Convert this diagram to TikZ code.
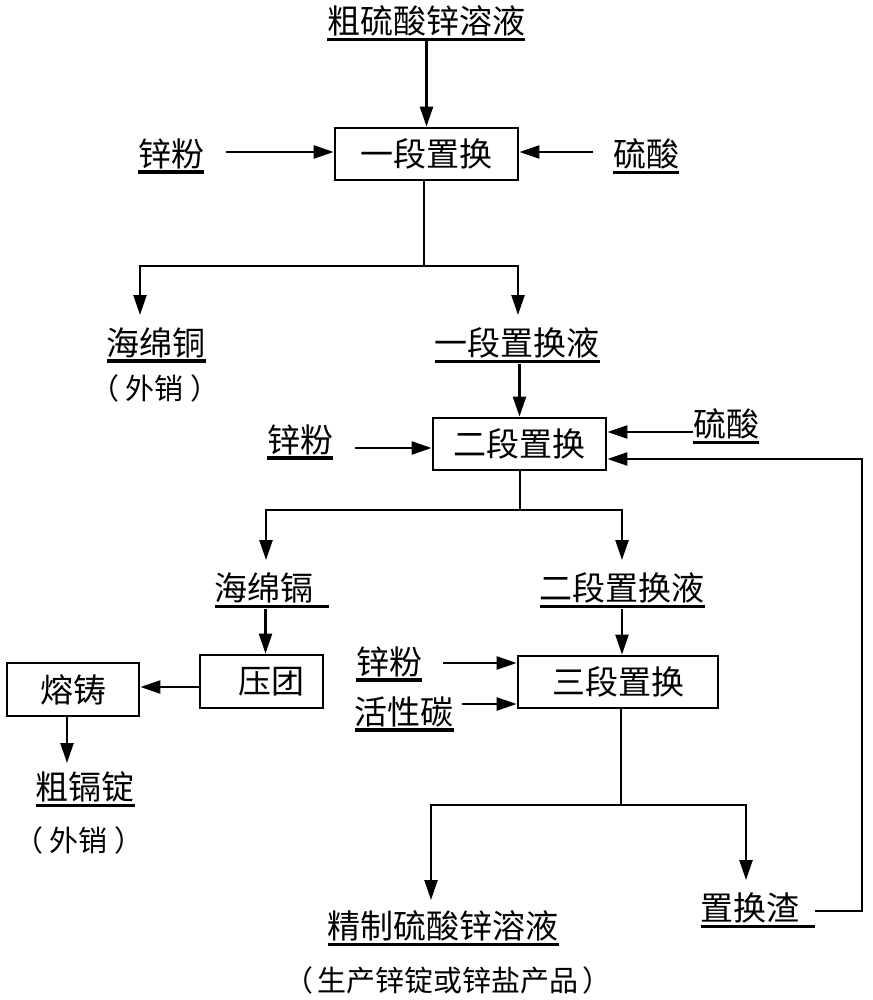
\documentclass[tikz,border=0pt]{standalone}
\usepackage{fontspec}
\newfontfamily\cjk{Noto Sans CJK SC}
\usetikzlibrary{arrows.meta}
\begin{document}
\begin{tikzpicture}[x=1pt,y=-1pt,
  lbl/.style={font=\cjk\fontsize{33}{36}\selectfont, inner sep=0pt, outer sep=0pt},
  note/.style={font=\cjk\fontsize{29}{32}\selectfont, inner sep=0pt, outer sep=0pt},
  box/.style={draw, line width=2.8pt, font=\cjk\fontsize{33}{36}\selectfont, minimum height=52pt, inner sep=0pt},
  ln/.style={line width=2.4pt},
  arr/.style={line width=2.4pt, -{Triangle[length=20pt,width=13pt]}},
  ul/.style={line width=3.4pt}
]
\useasboundingbox (0,0) rectangle (872,1000);
\fill[white] (0,0) rectangle (872,1000);

% ---- nodes ----
\node[lbl] (top) at (426,21) {粗硫酸锌溶液};
\node[box, minimum width=183pt] (b1) at (426.5,154) {一段置换};
\node[lbl] (zf1) at (171,154) {锌粉};
\node[lbl] (ls1) at (646,154) {硫酸};
\node[lbl] (hmt) at (156,343) {海绵铜};
\node[note] (wx1) at (155,388) {（\hspace{7pt}外销\hspace{7pt}）};
\node[lbl] (yd) at (517,343) {一段置换液};

\node[box, minimum width=173pt] (b2) at (519.5,444) {二段置换};
\node[lbl] (zf2) at (300,440) {锌粉};
\node[lbl] (ls2) at (726,424) {硫酸};

\node[lbl] (hmg) at (264,588) {海绵镉};
\node[lbl] (edy) at (622,588) {二段置换液};
\node[box, minimum width=123pt, minimum height=53pt] (yt) at (261.5,681.5) {\hspace*{20pt}压团};
\node[box, minimum width=132pt, minimum height=53pt] (rz) at (73,689.5) {熔铸};
\node[lbl] (cgd) at (85,787) {粗镉锭};
\node[note] (wx2) at (79,840) {（\hspace{7pt}外销\hspace{7pt}）};

\node[box, minimum width=200pt] (b3) at (618,682) {三段置换};
\node[lbl] (zf3) at (389,662) {锌粉};
\node[lbl] (hxt) at (404,712) {活性碳};

\node[lbl] (jz) at (443,926) {精制硫酸锌溶液};
\node[note] (prod) at (448,980) {（\hspace{4pt}生产锌锭或锌盐产品\hspace{4pt}）};
\node[lbl] (zhz) at (750,908) {置换渣};

% ---- underlines ----
\foreach \n in {top,zf1,ls1,hmt,yd,zf2,ls2,edy,zf3,hxt,cgd,jz}{
  \draw[ul] ([yshift=-3pt]\n.south west) -- ([yshift=-3pt]\n.south east);
}
\draw[ul] ([yshift=-3pt]hmg.south west) -- ([yshift=-3pt,xshift=15pt]hmg.south east);
\draw[ul] ([yshift=-3pt]zhz.south west) -- ([yshift=-3pt,xshift=15pt]zhz.south east);

% ---- coordinates ----
\coordinate (j1) at (424,266);
\coordinate (t1a) at (140,315);
\coordinate (t1b) at (518,315);
\coordinate (j2) at (520,510);
\coordinate (t2a) at (266,560);
\coordinate (t2b) at (622,560);
\coordinate (j3) at (621,805);
\coordinate (t3a) at (431,900);
\coordinate (t3b) at (746,880);
\coordinate (rc) at (862,911);
\coordinate (rt) at (67,763);

% ---- connectors ----
\draw[arr] (b1.north |- top.south) ++(0,5) -- (b1.north);
\draw[arr, shorten <=22pt] (zf1.east |- 0,152) -- (b1.west |- 0,152);
\draw[arr, shorten <=20pt] (ls1.west |- 0,152) -- (b1.east |- 0,152);
\draw[ln] (b1.south -| j1) -- (j1);
\draw[arr] (j1) -| (t1a);
\draw[arr] (j1) -| (t1b);

\draw[arr, shorten <=6pt] (b2.north |- yd.south) -- (b2.north);
\draw[arr, shorten <=22pt] (zf2.east |- 0,448) -- (b2.west |- 0,448);
\draw[arr] (ls2.west |- 0,432) -- (b2.east |- 0,432);
\draw[ln] (b2.south -| j2) -- (j2);
\draw[arr] (j2) -| (t2a);
\draw[arr] (j2) -| (t2b);

\draw[arr, shorten <=6pt] (hmg.south -| yt.north) ++(4,0) -- ([xshift=4pt]yt.north);
\draw[arr] (yt.west |- 0,687) -- (rz.east |- 0,687);
\draw[arr] (rz.south -| rt) -- (rt);

\draw[arr, shorten <=6pt] (edy.south) -- (edy.south |- b3.north);
\draw[arr, shorten <=21pt] (zf3.east |- 0,663) -- (b3.west |- 0,663);
\draw[arr, shorten <=8pt] (hxt.east |- 0,704) -- (b3.west |- 0,704);
\draw[ln] (b3.south -| j3) -- (j3);
\draw[arr] (j3) -| (t3a);
\draw[arr] (j3) -| (t3b);

\draw[arr, shorten <=-2pt] ([xshift=17pt]zhz.east |- rc) -- (rc) -- (rc |- 0,459) -- (b2.east |- 0,459);
\end{tikzpicture}
\end{document}
